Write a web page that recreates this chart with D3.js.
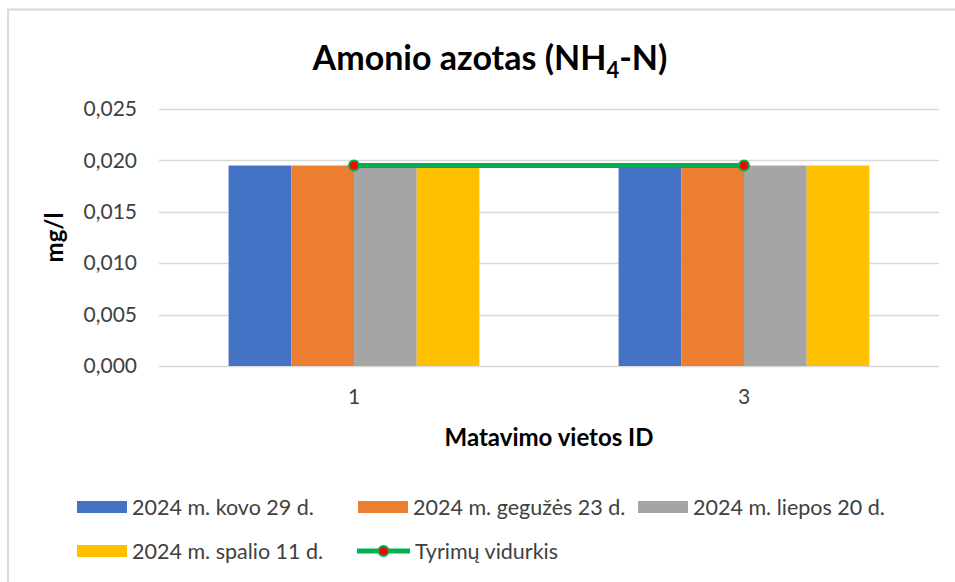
<!DOCTYPE html>
<html>
<head>
  <meta charset="utf-8">
  <script src="https://cdnjs.cloudflare.com/ajax/libs/d3/7.8.5/d3.min.js"></script>
  <title>Amonio azotas</title>
  <style>
    body { margin: 0; background: #fff; }
    text { font-family: Lato, "Open Sans", sans-serif; }
  </style>
</head>
<body>
<script>
// data
const sites = ["1", "3"];
const seriesNames = ["2024 m. kovo 29 d.", "2024 m. gegužės 23 d.", "2024 m. liepos 20 d.", "2024 m. spalio 11 d."];
const seriesValues = [
  [0.0195, 0.0195],   // kovo
  [0.0195, 0.0195],   // gegužės
  [0.0195, 0.0195],   // liepos
  [0.0195, 0.0195]    // spalio
];
const averageName = "Tyrimų vidurkis";
const averageValues = [0.0195, 0.0195];
const yTicks = [0, 0.005, 0.010, 0.015, 0.020, 0.025];
const colors = ["#4472c4", "#ed7d31", "#a5a5a5", "#ffc000"];

const W = 955, H = 582;
const margin = {top: 109, right: 16, bottom: 216, left: 159};
const labelColor = "#404040";

const svg = d3.select("body").append("svg")
    .attr("width", W)
    .attr("height", H);

// chart frame
svg.append("rect")
    .attr("x", 8).attr("y", 9.5)
    .attr("width", 960).attr("height", 600)
    .attr("fill", "#fff")
    .attr("stroke", "#d9d9d9")
    .attr("stroke-width", 2);

const x = d3.scaleBand()
    .domain(sites)
    .range([margin.left, W - margin.right]);

const x1 = d3.scaleBand()
    .domain(d3.range(seriesNames.length))
    .range([0, x.bandwidth()])
    .paddingInner(0)
    .paddingOuter(1.11);

const y = d3.scaleLinear()
    .domain([0, 0.025])
    .range([H - margin.bottom, margin.top]);

// gridlines
svg.append("g")
    .selectAll("line")
    .data(yTicks)
    .enter().append("line")
    .attr("x1", margin.left)
    .attr("x2", W - margin.right)
    .attr("y1", d => Math.round(y(d)) + 0.5)
    .attr("y2", d => Math.round(y(d)) + 0.5)
    .attr("stroke", "#d9d9d9")
    .attr("stroke-width", 1.5);

// y axis labels
const fmt = d => d3.format(".3f")(d).replace(".", ",");
const yAxis = d3.axisLeft(y).tickValues(yTicks).tickFormat(fmt).tickSize(0).tickPadding(22);
const gy = svg.append("g")
    .attr("transform", "translate(" + margin.left + ",0)")
    .call(yAxis);
gy.select(".domain").remove();
gy.selectAll("text")
    .style("font-size", "21px")
    .style("font-family", "Lato, sans-serif")
    .style("fill", labelColor);

// bars
seriesNames.forEach(function(name, si) {
  svg.append("g")
    .selectAll("rect")
    .data(sites)
    .enter().append("rect")
    .attr("x", d => x(d) + x1(si))
    .attr("width", x1.bandwidth())
    .attr("y", (d, i) => y(seriesValues[si][i]))
    .attr("height", (d, i) => y(0) - y(seriesValues[si][i]))
    .attr("fill", colors[si]);
});

// average line
const line = d3.line()
    .x((d, i) => x(sites[i]) + x.bandwidth() / 2)
    .y(d => y(d));
svg.append("path")
    .datum(averageValues)
    .attr("d", line)
    .attr("fill", "none")
    .attr("stroke", "#00b050")
    .attr("stroke-width", 5);
svg.append("g")
    .selectAll("circle")
    .data(averageValues)
    .enter().append("circle")
    .attr("cx", (d, i) => x(sites[i]) + x.bandwidth() / 2)
    .attr("cy", d => y(d))
    .attr("r", 5)
    .attr("fill", "#ff0000")
    .attr("stroke", "#00b050")
    .attr("stroke-width", 2);

// x axis labels
const xAxis = d3.axisBottom(x).tickSize(0).tickPadding(23);
const gx = svg.append("g")
    .attr("transform", "translate(0," + y(0) + ")")
    .call(xAxis);
gx.select(".domain").remove();
gx.selectAll("text")
    .style("font-size", "21px")
    .style("font-family", "Lato, sans-serif")
    .style("fill", labelColor);

// title
const title = svg.append("text")
    .attr("x", 490)
    .attr("y", 70)
    .attr("text-anchor", "middle")
    .style("font-size", "34px")
    .style("font-weight", "bold")
    .style("fill", "#000");
title.append("tspan").text("Amonio azotas (NH");
title.append("tspan").attr("dy", 8).style("font-size", "22px").text("4");
title.append("tspan").attr("dy", -8).text("-N)");

// axis titles
svg.append("text")
    .attr("transform", "translate(63," + ((margin.top + y(0)) / 2) + ") rotate(-90)")
    .attr("text-anchor", "middle")
    .style("font-size", "24px")
    .style("font-weight", "bold")
    .style("fill", "#000")
    .text("mg/l");

svg.append("text")
    .attr("x", (margin.left + W - margin.right) / 2)
    .attr("y", 446)
    .attr("text-anchor", "middle")
    .style("font-size", "24px")
    .style("font-weight", "bold")
    .style("fill", "#000")
    .text("Matavimo vietos ID");

// legend
const legendItems = [
  {name: seriesNames[0], x: 77, y: 507, type: "bar", color: colors[0]},
  {name: seriesNames[1], x: 358, y: 507, type: "bar", color: colors[1]},
  {name: seriesNames[2], x: 638, y: 507, type: "bar", color: colors[2]},
  {name: seriesNames[3], x: 77, y: 551, type: "bar", color: colors[3]},
  {name: averageName, x: 357, y: 551, type: "line"}
];
const leg = svg.append("g")
    .selectAll("g")
    .data(legendItems)
    .enter().append("g")
    .attr("transform", d => "translate(" + d.x + "," + d.y + ")");

leg.filter(d => d.type === "bar").append("rect")
    .attr("x", 0).attr("y", -6)
    .attr("width", 50).attr("height", 12)
    .attr("fill", d => d.color);
leg.filter(d => d.type === "line").append("line")
    .attr("x1", 0).attr("x2", 53)
    .attr("stroke", "#00b050").attr("stroke-width", 5);
leg.filter(d => d.type === "line").append("circle")
    .attr("cx", 26.5).attr("r", 5)
    .attr("fill", "#ff0000").attr("stroke", "#00b050").attr("stroke-width", 2);
leg.append("text")
    .attr("x", d => d.type === "bar" ? 55 : 58)
    .attr("y", 0)
    .attr("dy", "0.35em")
    .style("font-size", "21.5px")
    .style("fill", labelColor)
    .text(d => d.name);
</script>
</body>
</html>
